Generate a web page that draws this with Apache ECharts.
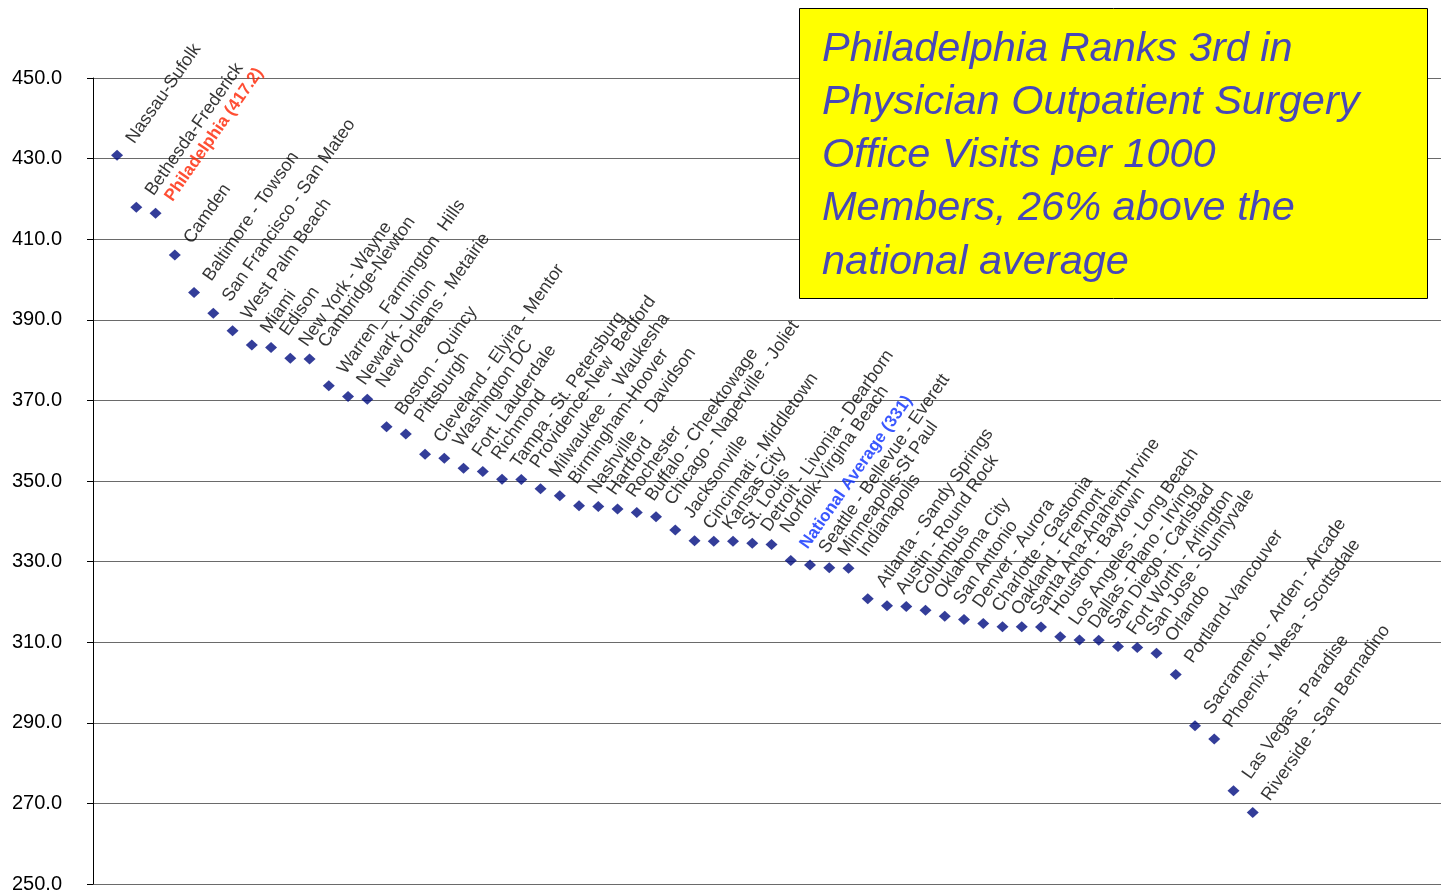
<!DOCTYPE html>
<html><head><meta charset="utf-8">
<script src="https://cdn.jsdelivr.net/npm/echarts@6/dist/echarts.min.js"></script>
<style>html,body{margin:0;padding:0;background:#fff}#c{width:1441px;height:890px}</style>
</head><body><div id="c"></div>
<script>
const categories = [
  "Nassau-Sufolk", "Bethesda-Frederick", "Philadelphia (417.2)", "Camden",
  "Baltimore - Towson", "San Francisco - San Mateo", "West Palm Beach", "Miami",
  "Edison", "New York - Wayne", "Cambridge-Newton", "Warren_ Farmington  Hills",
  "Newark - Union", "New Orleans - Metairie", "Boston - Quincy", "Pittsburgh",
  "Cleveland - Elyira - Mentor", "Washington DC", "Fort. Lauderdale", "Richmond",
  "Tampa - St. Petersburg", "Providence-New  Bedford", "Milwaukee  -  Waukesha", "Birmingham-Hoover",
  "Nashville  -  Davidson", "Hartford", "Rochester", "Buffalo - Cheektowage",
  "Chicago - Naperville - Joliet", "Jacksonville", "Cincinnati - Middletown", "Kansas City",
  "St. Louis", "Detroit - Livonia - Dearborn", "Norfolk-Virgina Beach", "National Average (331)",
  "Seattle - Bellevue - Everett", "Minneapolis-St Paul", "Indianapolis", "Atlanta - Sandy Springs",
  "Austin - Round Rock", "Columbus", "Oklahoma City", "San Antonio",
  "Denver - Aurora", "Charlotte - Gastonia", "Oakland - Fremont", "Santa Ana-Anaheim-Irvine",
  "Houston - Baytown", "Los Angeles - Long Beach", "Dallas - Plano - Irving", "San Diego - Carlsbad",
  "Fort Worth - Arlington", "San Jose - Sunnyvale", "Orlando", "Portland-Vancouver",
  "Sacramento - Arden - Arcade", "Phoenix - Mesa - Scottsdale", "Las Vegas - Paradise", "Riverside - San Bernadino"
];
const values = [
  431.6, 418.7, 417.2, 406.8, 397.5, 392.4, 388.0, 384.5, 383.9, 381.2,
  381.0, 374.4, 371.7, 371.0, 364.2, 362.4, 357.4, 356.4, 353.9, 353.1,
  351.2, 351.1, 348.8, 347.1, 344.6, 344.4, 343.8, 342.9, 341.9, 338.6,
  335.9, 335.8, 335.8, 335.3, 335.0, 331.0, 329.9, 329.2, 329.1, 321.5,
  319.8, 319.6, 318.7, 317.2, 316.4, 315.4, 314.6, 314.6, 314.5, 312.1,
  311.3, 311.2, 309.7, 309.4, 308.0, 302.7, 290.0, 286.7, 273.9, 268.5
];
const highlightRed = [2];
const highlightBlue = [35];
const yMin = 250, yMax = 450, yStep = 20;
const titleLines = [
  "Philadelphia Ranks 3rd in",
  "Physician Outpatient Surgery",
  "Office Visits per 1000",
  "Members, 26% above the",
  "national average"
];

const chart = echarts.init(document.getElementById('c'), null, {renderer: 'canvas'});
const data = values.map((v, i) => {
  const item = {value: [i, v]};
  if (highlightRed.includes(i)) item.label = {color: '#FF2200', fontWeight: 'bold', fontSize: 17};
  if (highlightBlue.includes(i)) item.label = {color: '#0A2EFF', fontWeight: 'bold', fontSize: 17};
  return item;
});
chart.setOption({
  animation: false,
  backgroundColor: '#ffffff',
  grid: {left: 93, right: 0, top: 78, bottom: 6, containLabel: false, outerBoundsMode: 'none'},
  xAxis: {type: 'value', min: -1.25, max: 68.78, show: false, splitLine: {show: false}},
  yAxis: {
    type: 'value', min: yMin, max: yMax, interval: yStep,
    axisLine: {show: true, onZero: false, lineStyle: {color: '#000', width: 1}},
    axisTick: {show: true, length: 6, lineStyle: {color: '#000'}},
    axisLabel: {
      margin: 31, color: '#000', fontFamily: 'Liberation Sans', fontSize: 20,
      formatter: v => v.toFixed(1)
    },
    splitLine: {show: true, lineStyle: {color: '#6a6a6a', width: 1}}
  },
  series: [{
    type: 'scatter',
    data: data,
    symbol: 'diamond',
    symbolSize: [12, 11],
    symbolOffset: [0, 3],
    clip: false,
    silent: true,
    itemStyle: {color: '#000C80'},
    label: {
      show: true,
      formatter: p => categories[p.dataIndex],
      position: [19, -8],
      rotate: 55,
      align: 'left',
      verticalAlign: 'middle',
      fontFamily: 'Liberation Sans',
      fontSize: 18,
      color: '#000'
    },
    emphasis: {disabled: true}
  }],
  graphic: [
    {type: 'rect', z: 100, shape: {x: 799.5, y: 8.5, width: 628, height: 290},
     style: {fill: '#FFFF00', stroke: '#000', lineWidth: 1}},
    {type: 'text', z: 101, x: 822, y: 22.5,
     style: {text: titleLines.join('\n'), fill: '#4747B8', fontFamily: 'Liberation Sans',
             fontStyle: 'italic', fontSize: 41.5, lineHeight: 53.25, align: 'left', verticalAlign: 'top'}}
  ]
});
</script></body></html>
